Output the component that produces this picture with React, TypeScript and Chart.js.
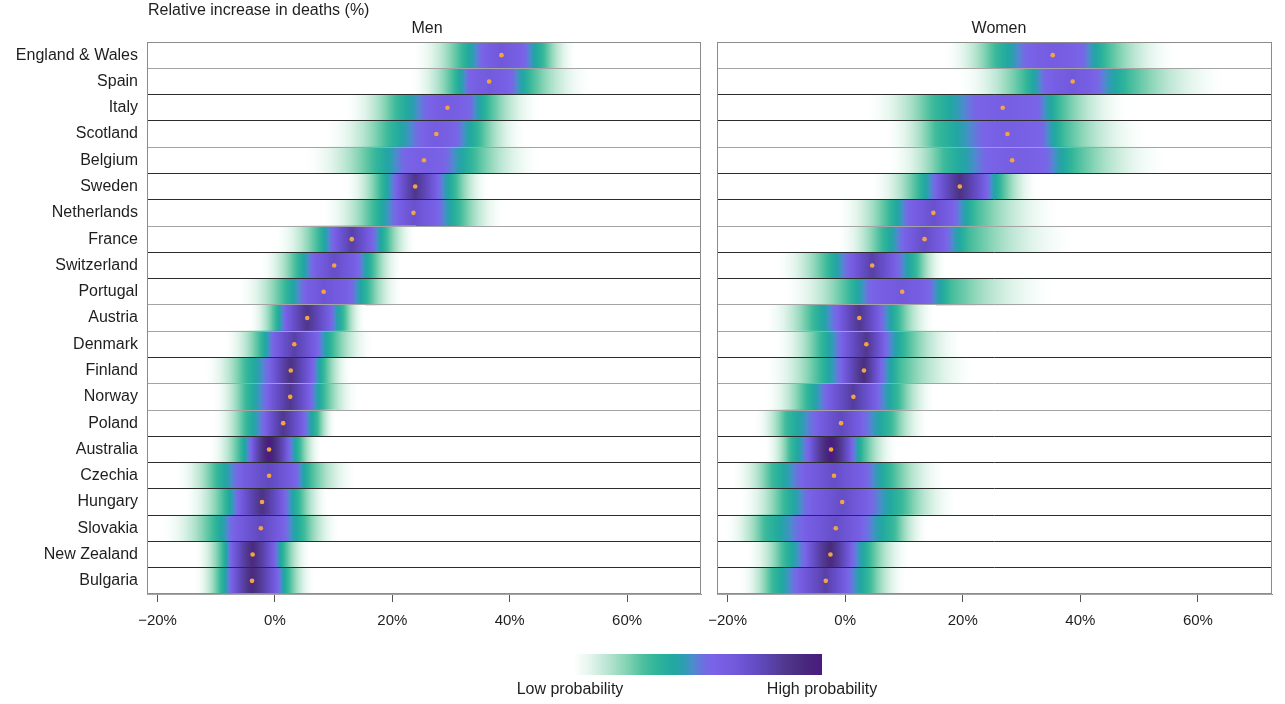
import React, { useEffect, useRef } from 'react';
import { Chart, registerables } from 'chart.js';

Chart.register(...registerables);

// ---------------- DATA ----------------
const countries = [
  'England & Wales', 'Spain', 'Italy', 'Scotland', 'Belgium', 'Sweden', 'Netherlands',
  'France', 'Switzerland', 'Portugal', 'Austria', 'Denmark', 'Finland', 'Norway',
  'Poland', 'Australia', 'Czechia', 'Hungary', 'Slovakia', 'New Zealand', 'Bulgaria',
];

const xTickValues = [-20, 0, 20, 40, 60];
const xMin = -21.8;
const xMax = 72.6;

// Men: median and distribution bands (% relative increase in deaths)
const menMedian = [38.6, 36.5, 29.4, 27.5, 25.4, 23.9, 23.6, 13.1, 10.1, 8.3, 5.5, 3.3, 2.7, 2.6, 1.4, -1.0, -1.0, -2.2, -2.4, -3.8, -3.9];
const menFaintLo = [23.5, 22.9, 11.8, 8.5, 5.0, 11.8, 8.0, 0.0, -2.6, -6.3, -4.4, -8.7, -12.0, -10.6, -10.6, -11.3, -17.0, -15.5, -19.3, -13.7, -13.7];
const menTealLo = [31.6, 30.4, 20.5, 19.1, 16.7, 17.9, 16.7, 7.3, 3.6, 1.5, 0.0, -2.6, -5.1, -5.1, -5.1, -6.0, -10.1, -8.7, -10.6, -9.0, -9.4];
const menPurpleLo = [35.3, 33.1, 25.9, 24.7, 22.2, 20.6, 20.6, 9.9, 6.5, 5.0, 1.7, -0.3, -1.0, -1.4, -1.8, -4.1, -6.3, -6.3, -7.2, -7.5, -7.5];
const menPurpleHi = [42.5, 40.3, 33.1, 30.9, 29.0, 27.8, 27.8, 16.7, 14.2, 13.0, 9.6, 7.3, 6.5, 6.1, 5.0, 2.4, 3.6, 1.7, 1.7, 0.0, 0.5];
const menTealHi = [45.9, 43.7, 36.5, 35.0, 34.1, 30.9, 31.6, 19.1, 16.7, 16.0, 11.8, 9.9, 8.5, 8.5, 7.3, 4.3, 6.1, 4.3, 5.0, 1.7, 2.4];
const menFaintHi = [51.4, 53.9, 45.2, 42.7, 45.2, 36.5, 39.1, 24.0, 21.7, 21.7, 15.4, 16.7, 13.0, 14.2, 10.4, 8.0, 14.0, 9.2, 11.1, 6.1, 6.8];
const menPeak = [0.66, 0.64, 0.62, 0.62, 0.6, 0.86, 0.7, 0.8, 0.72, 0.68, 0.86, 0.8, 0.88, 0.85, 0.85, 1.0, 0.75, 0.88, 0.75, 0.92, 0.92];

// Women
const womenMedian = [35.3, 38.7, 26.8, 27.6, 28.4, 19.5, 15.0, 13.5, 4.6, 9.7, 2.4, 3.6, 3.2, 1.4, -0.7, -2.4, -1.9, -0.5, -1.6, -2.5, -3.3];
const womenFaintLo = [16.7, 19.1, 3.6, 6.8, 7.3, 4.3, -1.4, -1.4, -11.9, -10.6, -13.7, -12.0, -13.7, -13.7, -15.5, -13.7, -19.3, -18.0, -20.5, -16.9, -18.0];
const womenTealLo = [25.4, 30.4, 14.8, 15.4, 16.7, 12.3, 7.3, 6.1, -3.2, 0.5, -5.6, -4.4, -4.4, -6.8, -10.1, -9.4, -12.5, -10.6, -13.7, -10.6, -12.5];
const womenPurpleLo = [30.9, 34.1, 22.2, 23.5, 24.1, 15.4, 10.8, 9.9, 0.5, 4.3, -1.4, -0.7, -0.7, -3.2, -5.1, -6.3, -7.5, -6.3, -7.5, -6.8, -8.2];
const womenPurpleHi = [40.3, 42.7, 32.8, 33.4, 34.1, 24.1, 18.6, 17.2, 8.9, 14.2, 6.1, 6.8, 6.1, 5.5, 3.1, 1.2, 3.6, 4.3, 3.1, 1.2, 0.5];
const womenTealHi = [44.5, 48.3, 36.5, 37.2, 39.1, 26.6, 22.2, 21.0, 12.3, 17.9, 9.2, 10.4, 9.2, 9.2, 8.0, 3.1, 8.0, 9.9, 8.5, 4.3, 4.3];
const womenFaintHi = [56.3, 65.0, 48.3, 51.4, 54.6, 32.8, 36.5, 39.1, 17.2, 35.8, 15.4, 20.0, 22.0, 15.4, 14.2, 9.0, 17.2, 19.0, 14.2, 11.1, 10.4];
const womenPeak = [0.62, 0.65, 0.6, 0.6, 0.6, 0.88, 0.7, 0.72, 0.8, 0.65, 0.85, 0.85, 0.9, 0.82, 0.75, 1.0, 0.72, 0.72, 0.72, 0.92, 0.8];

// ---------------- STYLE ----------------
const FONT = '"Liberation Sans", Arial, Helvetica, sans-serif';
const TEXT = '#1e1e1e';
const DOT = '#f2a444';
const GRAY_LINE = '#a4a4a4';
const DARK_LINE = '#2c2c2c';
// row separator shades (index 0 = top edge ... 21 = bottom edge)
const lineShade = ['g', 'g', 'b', 'b', 'g', 'b', 'b', 'g', 'b', 'b', 'g', 'g', 'b', 'g', 'g', 'b', 'b', 'b', 'b', 'b', 'b', 'g'];

const CMAP: Array<[number, string]> = [
  [0.0, '#ffffff'],
  [0.06, '#e6f6ee'],
  [0.15, '#b0e2cc'],
  [0.22, '#7dd1b1'],
  [0.28, '#4bbf9e'],
  [0.33, '#30b59a'],
  [0.4, '#22a8a0'],
  [0.44, '#2c9fb0'],
  [0.48, '#4d8ccd'],
  [0.52, '#6d6fe0'],
  [0.56, '#7a63e8'],
  [0.65, '#7259dc'],
  [0.75, '#6149be'],
  [0.85, '#50388f'],
  [0.93, '#48287c'],
  [1.0, '#4b1a80'],
];

function hexRgb(h: string): number[] {
  const n = parseInt(h.slice(1), 16);
  return [(n >> 16) & 255, (n >> 8) & 255, n & 255];
}

function cmap(t: number): string {
  t = Math.max(0, Math.min(1, t));
  for (let i = 1; i < CMAP.length; i++) {
    const [t1, c1] = CMAP[i];
    const [t0, c0] = CMAP[i - 1];
    if (t <= t1) {
      const f = (t - t0) / (t1 - t0 || 1);
      const a = hexRgb(c0);
      const b = hexRgb(c1);
      const r = a.map((v, k) => Math.round(v + (b[k] - v) * f));
      return `rgb(${r[0]},${r[1]},${r[2]})`;
    }
  }
  return CMAP[CMAP.length - 1][1];
}

type Row = { lo: number; tl: number; pl: number; m: number; ph: number; th: number; hi: number; peak: number };

function buildRows(
  median: number[], faintLo: number[], tealLo: number[], purpleLo: number[],
  purpleHi: number[], tealHi: number[], faintHi: number[], peak: number[],
): Row[] {
  return countries.map((_, i) => ({
    lo: faintLo[i], tl: tealLo[i], pl: purpleLo[i], m: median[i],
    ph: purpleHi[i], th: tealHi[i], hi: faintHi[i], peak: peak[i],
  }));
}

const T_TEAL = 0.3;
const T_PURPLE = 0.55;

function stripGradient(chart: any, row: Row) {
  const xs = chart.scales && chart.scales.x;
  if (!xs || !chart.chartArea) return 'rgba(0,0,0,0)';
  const p = (v: number) => xs.getPixelForValue(v);
  const x0 = p(row.lo);
  const x1 = p(row.hi);
  if (!isFinite(x0) || !isFinite(x1) || x1 <= x0) return 'rgba(0,0,0,0)';
  const g = chart.ctx.createLinearGradient(x0, 0, x1, 0);
  const segs: Array<[number, number, (f: number) => number]> = [
    [row.lo, row.tl, (f) => T_TEAL * Math.pow(f, 1.6)],
    [row.tl, row.pl, (f) => T_TEAL + (T_PURPLE - T_TEAL) * f],
    [row.pl, row.m, (f) => T_PURPLE + (row.peak - T_PURPLE) * Math.pow(f, 0.7)],
    [row.m, row.ph, (f) => T_PURPLE + (row.peak - T_PURPLE) * Math.pow(1 - f, 0.7)],
    [row.ph, row.th, (f) => T_PURPLE - (T_PURPLE - T_TEAL) * f],
    [row.th, row.hi, (f) => T_TEAL * Math.pow(1 - f, 1.6)],
  ];
  const N = 10;
  for (const [a, b, fn] of segs) {
    for (let k = 0; k <= N; k++) {
      const f = k / N;
      const x = p(a + (b - a) * f);
      const off = Math.min(1, Math.max(0, (x - x0) / (x1 - x0)));
      if (isFinite(off)) g.addColorStop(off, cmap(fn(f)));
    }
  }
  return g;
}

const framePlugin = {
  id: 'frame',
  afterDraw(chart: any) {
    const { ctx, chartArea: a } = chart;
    ctx.save();
    ctx.strokeStyle = '#8c8c8c';
    ctx.lineWidth = 1;
    ctx.strokeRect(Math.round(a.left) + 0.5, Math.round(a.top) + 0.5, Math.round(a.right - a.left) - 1, Math.round(a.bottom - a.top) - 1);
    ctx.restore();
  },
};

type PanelProps = {
  rows: Row[];
  showLabels: boolean;
  left: number;
  width: number;
  padLeft: number;
  padRight: number;
  yWidth: number;
};

function Panel({ rows, showLabels, left, width, padLeft, padRight, yWidth }: PanelProps) {
  const ref = useRef<HTMLCanvasElement>(null);
  useEffect(() => {
    const chart = new Chart(ref.current as HTMLCanvasElement, {
      type: 'bar',
      data: {
        labels: countries,
        datasets: [
          {
            type: 'line',
            data: rows.map((r, i) => ({ x: r.m, y: countries[i] })) as any,
            showLine: false,
            pointRadius: 2.3,
            pointBackgroundColor: DOT,
            pointBorderWidth: 0,
            pointHoverRadius: 2.3,
            order: 0,
          } as any,
          {
            type: 'bar',
            data: rows.map((r) => [r.lo, r.hi]) as any,
            backgroundColor: (c: any) => (c.type === 'data' ? stripGradient(c.chart, rows[c.dataIndex]) : 'rgba(0,0,0,0)'),
            borderWidth: 0,
            barPercentage: 1,
            categoryPercentage: 1,
            order: 1,
          } as any,
        ],
      },
      options: {
        indexAxis: 'y',
        responsive: false,
        animation: false,
        events: [],
        layout: { padding: { top: 42, bottom: 70, left: padLeft, right: padRight } },
        plugins: {
          legend: { display: false },
          tooltip: { enabled: false },
          title: { display: false },
        },
        scales: {
          x: {
            type: 'linear',
            min: xMin,
            max: xMax,
            afterBuildTicks: (s: any) => {
              s.ticks = xTickValues.map((v) => ({ value: v }));
            },
            grid: { drawOnChartArea: false, drawTicks: true, tickLength: 8, color: '#555555' },
            border: { display: true, color: '#8c8c8c' },
            ticks: {
              callback: (v: any) => (Number(v) < 0 ? '\u2212' + Math.abs(Number(v)) : String(v)) + '%',
              font: { family: FONT, size: 15 },
              color: TEXT,
              padding: 10,
              maxRotation: 0,
              autoSkip: false,
            },
            afterFit: (s: any) => {
              s.height = 40;
            },
          },
          y: {
            type: 'category',
            offset: true,
            grid: {
              offset: true,
              z: 1,
              drawTicks: false,
              lineWidth: 1,
              color: (c: any) => (lineShade[c.index] === 'b' ? DARK_LINE : GRAY_LINE),
            },
            border: { display: false },
            ticks: {
              display: showLabels,
              autoSkip: false,
              font: { family: FONT, size: 16 },
              color: TEXT,
              padding: 9,
            },
            afterFit: (s: any) => {
              s.width = yWidth;
            },
          },
        },
      } as any,
      plugins: [framePlugin],
    });
    chart.update();
    return () => chart.destroy();
  }, []);
  return (
    <canvas
      ref={ref}
      width={width}
      height={704}
      style={{ position: 'absolute', left, top: 0, width, height: 704 }}
    />
  );
}

const legendGradient =
  'linear-gradient(to right, ' + CMAP.map(([t, c]) => `${c} ${(t * 100).toFixed(1)}%`).join(', ') + ')';

export default function App() {
  const men = buildRows(menMedian, menFaintLo, menTealLo, menPurpleLo, menPurpleHi, menTealHi, menFaintHi, menPeak);
  const women = buildRows(womenMedian, womenFaintLo, womenTealLo, womenPurpleLo, womenPurpleHi, womenTealHi, womenFaintHi, womenPeak);
  const textBase: React.CSSProperties = { position: 'absolute', fontFamily: FONT, color: TEXT, whiteSpace: 'nowrap' };
  return (
    <div style={{ position: 'absolute', left: 0, top: 0, width: 1285, height: 704, background: '#ffffff', overflow: 'hidden' }}>
      <Panel rows={men} showLabels={true} left={0} width={708} padLeft={0} padRight={7} yWidth={147} />
      <Panel rows={women} showLabels={false} left={690} width={595} padLeft={27} padRight={13} yWidth={0} />
      <div style={{ ...textBase, left: 148, top: 1, fontSize: 16, lineHeight: '18px' }}>Relative increase in deaths (%)</div>
      <div style={{ ...textBase, left: 324, width: 206, top: 19, fontSize: 16, lineHeight: '18px', textAlign: 'center' }}>Men</div>
      <div style={{ ...textBase, left: 894, width: 210, top: 19, fontSize: 16, lineHeight: '18px', textAlign: 'center' }}>Women</div>
      <div style={{ position: 'absolute', left: 574, top: 654, width: 248, height: 21, background: legendGradient }} />
      <div style={{ ...textBase, left: 470, width: 200, top: 680, fontSize: 16, lineHeight: '18px', textAlign: 'center' }}>Low probability</div>
      <div style={{ ...textBase, left: 722, width: 200, top: 680, fontSize: 16, lineHeight: '18px', textAlign: 'center' }}>High probability</div>
    </div>
  );
}
